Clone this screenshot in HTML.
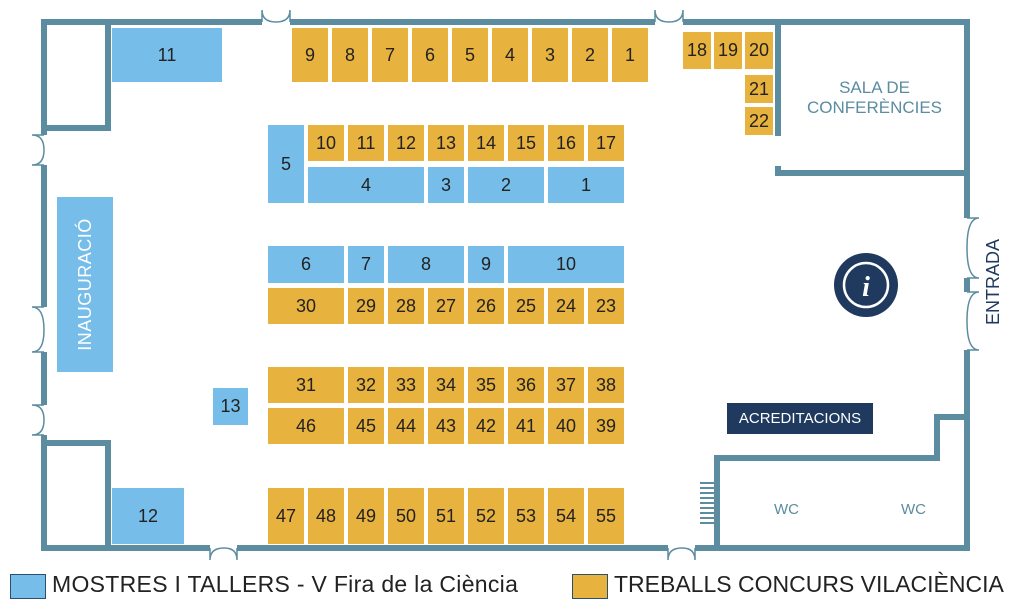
<!DOCTYPE html><html><head><meta charset="utf-8"><style>
body{margin:0;width:1024px;height:612px;background:#fff;position:relative;overflow:hidden;font-family:"Liberation Sans",sans-serif}
.b{position:absolute;display:flex;align-items:center;justify-content:center;font-size:18px;color:#222}
.o{background:#e8b23e}.l{background:#76bdea}
svg{position:absolute;left:0;top:0}
</style></head><body>
<svg width="1024" height="612">
<g fill="none" stroke="#5b8ca0" stroke-width="6">
<path d="M262 22H44V135M44 165V307M44 352V405M44 435V548H210M237 548H668M695 548H967V350M967 292V278M967 218V22H683M655 22H290"/>
<path d="M44 128H108V22M44 443H108V548"/>
<path d="M778 22V136M778 166V173H967"/>
<path d="M967 417H937V458H717V548"/>
</g>
<g fill="none" stroke="#5b8ca0" stroke-width="1.5">
<path d="M262 22V10Q262 22 276 22Q290 22 290 10V22M655 22V10Q655 22 669 22Q683 22 683 10V22"/>
<path d="M210 548V560Q210 548 224 548Q237 548 237 560V548M668 548V560Q668 548 682 548Q695 548 695 560V548"/>
<path d="M44 135H32Q44 135 44 150Q44 165 32 165H44M44 307H32Q44 307 44 330Q44 352 32 352H44M44 405H32Q44 405 44 420Q44 435 32 435H44"/>
<path d="M967 218H979Q967 218 967 248Q967 278 979 278H967M967 292H979Q967 292 967 321Q967 350 979 350H967"/>
</g>
<g stroke="#5b8ca0" stroke-width="2"><path d="M700 483H716M700 488H716M700 493H716M700 498H716M700 503H716M700 508H716M700 513H716M700 518H716M700 523H716"/></g>
<circle cx="866" cy="285" r="32" fill="#1f3a5e"/>
<circle cx="866" cy="285" r="22" fill="none" stroke="#fff" stroke-width="2.5"/>
<text x="866" y="296" fill="#fff" font-family="Liberation Serif" font-style="italic" font-weight="bold" font-size="28" text-anchor="middle">i</text>
</svg>
<div class="b l" style="left:112px;top:28px;width:110px;height:54px">11</div>
<div class="b l" style="left:112px;top:488px;width:72px;height:56px">12</div>
<div class="b l" style="left:213px;top:388px;width:35px;height:37px">13</div>
<div class="b l" style="left:57px;top:197px;width:56px;height:175px"><span style="transform:rotate(-90deg);color:#fff;font-size:18px;white-space:nowrap;letter-spacing:0.5px">INAUGURACIÓ</span></div>
<div class="b o" style="left:292px;top:28px;width:36px;height:54px">9</div>
<div class="b o" style="left:332px;top:28px;width:36px;height:54px">8</div>
<div class="b o" style="left:372px;top:28px;width:36px;height:54px">7</div>
<div class="b o" style="left:412px;top:28px;width:36px;height:54px">6</div>
<div class="b o" style="left:452px;top:28px;width:36px;height:54px">5</div>
<div class="b o" style="left:492px;top:28px;width:36px;height:54px">4</div>
<div class="b o" style="left:532px;top:28px;width:36px;height:54px">3</div>
<div class="b o" style="left:572px;top:28px;width:36px;height:54px">2</div>
<div class="b o" style="left:612px;top:28px;width:36px;height:54px">1</div>
<div class="b l" style="left:268px;top:125px;width:36px;height:78px">5</div>
<div class="b o" style="left:308px;top:125px;width:36px;height:36px">10</div>
<div class="b o" style="left:348px;top:125px;width:36px;height:36px">11</div>
<div class="b o" style="left:388px;top:125px;width:36px;height:36px">12</div>
<div class="b o" style="left:428px;top:125px;width:36px;height:36px">13</div>
<div class="b o" style="left:468px;top:125px;width:36px;height:36px">14</div>
<div class="b o" style="left:508px;top:125px;width:36px;height:36px">15</div>
<div class="b o" style="left:548px;top:125px;width:36px;height:36px">16</div>
<div class="b o" style="left:588px;top:125px;width:36px;height:36px">17</div>
<div class="b l" style="left:308px;top:167px;width:116px;height:36px">4</div>
<div class="b l" style="left:428px;top:167px;width:36px;height:36px">3</div>
<div class="b l" style="left:468px;top:167px;width:76px;height:36px">2</div>
<div class="b l" style="left:548px;top:167px;width:76px;height:36px">1</div>
<div class="b l" style="left:268px;top:246px;width:76px;height:37px">6</div>
<div class="b l" style="left:348px;top:246px;width:36px;height:37px">7</div>
<div class="b l" style="left:388px;top:246px;width:76px;height:37px">8</div>
<div class="b l" style="left:468px;top:246px;width:36px;height:37px">9</div>
<div class="b l" style="left:508px;top:246px;width:116px;height:37px">10</div>
<div class="b o" style="left:268px;top:288px;width:76px;height:36px">30</div>
<div class="b o" style="left:348px;top:288px;width:36px;height:36px">29</div>
<div class="b o" style="left:388px;top:288px;width:36px;height:36px">28</div>
<div class="b o" style="left:428px;top:288px;width:36px;height:36px">27</div>
<div class="b o" style="left:468px;top:288px;width:36px;height:36px">26</div>
<div class="b o" style="left:508px;top:288px;width:36px;height:36px">25</div>
<div class="b o" style="left:548px;top:288px;width:36px;height:36px">24</div>
<div class="b o" style="left:588px;top:288px;width:36px;height:36px">23</div>
<div class="b o" style="left:268px;top:367px;width:76px;height:36px">31</div>
<div class="b o" style="left:348px;top:367px;width:36px;height:36px">32</div>
<div class="b o" style="left:388px;top:367px;width:36px;height:36px">33</div>
<div class="b o" style="left:428px;top:367px;width:36px;height:36px">34</div>
<div class="b o" style="left:468px;top:367px;width:36px;height:36px">35</div>
<div class="b o" style="left:508px;top:367px;width:36px;height:36px">36</div>
<div class="b o" style="left:548px;top:367px;width:36px;height:36px">37</div>
<div class="b o" style="left:588px;top:367px;width:36px;height:36px">38</div>
<div class="b o" style="left:268px;top:408px;width:76px;height:36px">46</div>
<div class="b o" style="left:348px;top:408px;width:36px;height:36px">45</div>
<div class="b o" style="left:388px;top:408px;width:36px;height:36px">44</div>
<div class="b o" style="left:428px;top:408px;width:36px;height:36px">43</div>
<div class="b o" style="left:468px;top:408px;width:36px;height:36px">42</div>
<div class="b o" style="left:508px;top:408px;width:36px;height:36px">41</div>
<div class="b o" style="left:548px;top:408px;width:36px;height:36px">40</div>
<div class="b o" style="left:588px;top:408px;width:36px;height:36px">39</div>
<div class="b o" style="left:268px;top:488px;width:36px;height:56px">47</div>
<div class="b o" style="left:308px;top:488px;width:36px;height:56px">48</div>
<div class="b o" style="left:348px;top:488px;width:36px;height:56px">49</div>
<div class="b o" style="left:388px;top:488px;width:36px;height:56px">50</div>
<div class="b o" style="left:428px;top:488px;width:36px;height:56px">51</div>
<div class="b o" style="left:468px;top:488px;width:36px;height:56px">52</div>
<div class="b o" style="left:508px;top:488px;width:36px;height:56px">53</div>
<div class="b o" style="left:548px;top:488px;width:36px;height:56px">54</div>
<div class="b o" style="left:588px;top:488px;width:36px;height:56px">55</div>
<div class="b o" style="left:683px;top:32px;width:28px;height:37px">18</div>
<div class="b o" style="left:714px;top:32px;width:28px;height:37px">19</div>
<div class="b o" style="left:745px;top:32px;width:28px;height:37px">20</div>
<div class="b o" style="left:745px;top:75px;width:28px;height:28px">21</div>
<div class="b o" style="left:745px;top:107px;width:28px;height:28px">22</div>
<div style="position:absolute;left:782px;top:78px;width:185px;text-align:center;color:#5b8ca0;font-size:17px;line-height:20px">SALA DE<br>CONFERÈNCIES</div>
<div class="b" style="left:727px;top:403px;width:146px;height:31px;background:#1f3a5e;color:#fff;font-size:15px">ACREDITACIONS</div>
<div style="position:absolute;left:774px;top:501px;color:#5b8ca0;font-size:15px">WC</div>
<div style="position:absolute;left:901px;top:501px;color:#5b8ca0;font-size:15px">WC</div>
<div class="b" style="left:958px;top:270px;width:70px;height:24px;transform:rotate(-90deg);color:#1f3a5e;font-size:18px">ENTRADA</div>
<div style="position:absolute;left:10px;top:574px;width:34px;height:23px;background:#76bdea;border:1px solid #2a5070"></div>
<div style="position:absolute;left:52px;top:571px;font-size:23px;letter-spacing:0.3px;color:#222">MOSTRES I TALLERS - V Fira de la Ciència</div>
<div style="position:absolute;left:572px;top:574px;width:34px;height:23px;background:#e8b23e;border:1px solid #2a5070"></div>
<div style="position:absolute;left:614px;top:571px;font-size:23px;letter-spacing:0px;color:#222">TREBALLS CONCURS VILACIÈNCIA</div>
</body></html>
